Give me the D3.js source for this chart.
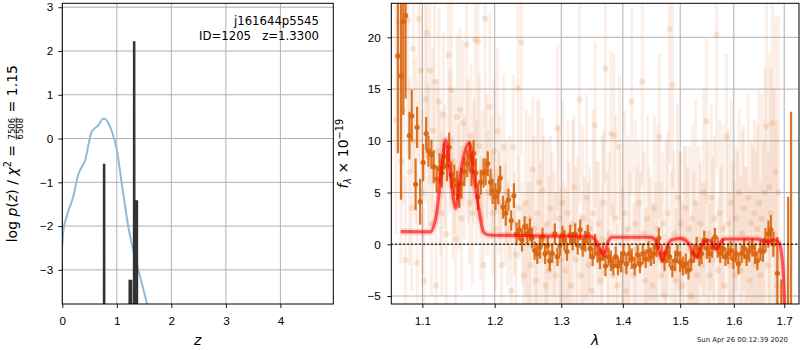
<!DOCTYPE html>
<html>
<head>
<meta charset="utf-8">
<script src="https://d3js.org/d3.v7.min.js"></script>
<style>
  body { margin: 0; background: #fff; }
  svg { font-family: 'DejaVu Sans', sans-serif; }
  .tick text { font-size: 11.7px; fill: #000; }
  .tick line { stroke: #000; stroke-width: 0.9; }
</style>
</head>
<body>
<svg width="800" height="350"></svg>
<script>
// ---- left panel: p(z) ----
var pzZ    = [0.0, 0.02, 0.08, 0.2, 0.29, 0.42, 0.54, 0.66, 0.75, 0.78, 0.84, 0.91, 1.0, 1.09, 1.21, 1.33, 1.46, 1.55, 1.62];
var pzLogP = [-2.45, -2.1, -1.78, -1.33, -0.83, -0.49, 0.16, 0.3, 0.45, 0.45, 0.36, 0.16, -0.26, -1.02, -2.01, -2.7, -3.31, -3.76, -4.1];

var fitZ    = [0.70, 0.758, 0.762, 0.772, 0.776, 1.22, 1.232, 1.265, 1.27, 1.31, 1.313, 1.323, 1.327, 1.355, 1.36, 1.373, 1.377, 1.50];
var fitLogP = [-12, -12, -0.6, -0.6, -12, -12, -3.25, -3.25, -12, -12, 2.2, 2.2, -12, -12, -1.43, -1.43, -12, -12];

var zTicks = [0, 1, 2, 3, 4];
var pTicks = [-3, -2, -1, 0, 1, 2, 3];

// ---- right panel: spectrum ----
var binWave = [1.068,1.072,1.075,1.078,1.083,1.086,1.091,1.093,1.097,1.101,
  1.105,1.108,1.112,1.115,1.119,1.123,1.126,1.129,1.133,1.136,
  1.139,1.143,1.147,1.150,1.153,1.157,1.161,1.164,1.167,1.170,
  1.173,1.176,1.180,1.184,1.187,1.190,1.194,1.197,1.201,1.205,
  1.208,1.212,1.216,1.220,1.224,1.228,1.232,1.236,1.240,1.244,
  1.248,1.252,1.255,1.259,1.263,1.267,1.271,1.275,1.279,1.282,
  1.286,1.290,1.294,1.298,1.302,1.305,1.309,1.314,1.318,1.322,
  1.326,1.330,1.334,1.338,1.342,1.346,1.350,1.354,1.358,1.362,
  1.367,1.371,1.376,1.380,1.384,1.388,1.392,1.397,1.401,1.406,
  1.411,1.415,1.420,1.425,1.429,1.434,1.439,1.444,1.448,1.453,
  1.458,1.462,1.467,1.472,1.477,1.481,1.486,1.491,1.495,1.500,
  1.505,1.510,1.515,1.520,1.525,1.530,1.535,1.539,1.544,1.549,
  1.554,1.559,1.564,1.569,1.574,1.579,1.584,1.589,1.594,1.599,
  1.604,1.609,1.615,1.620,1.625,1.630,1.636,1.641,1.646,1.652,
  1.657,1.662,1.668,1.673,1.678,1.686,1.694,1.708,1.714];
var binFlux = [18.2,16.3,21.5,22.1,10.5,12.4,5.8,11.3,4.1,7.9,
  10.7,9.0,8.7,7.5,6.3,7.3,6.9,8.5,7.6,9.4,
  6.7,6.2,5.7,4.8,5.9,7.0,7.8,8.5,7.1,8.8,
  6.9,4.6,6.0,6.9,7.0,7.8,6.0,5.1,4.6,5.1,
  6.4,3.6,3.0,4.3,2.3,4.7,1.0,1.4,0.4,1.7,
  1.0,1.4,0.6,-0.6,-0.9,-0.3,0.7,-0.9,-0.1,-1.6,
  -0.9,1.0,-1.2,-0.1,0.9,0.4,-0.7,0.9,0.3,1.0,
  -0.1,1.4,-0.3,0.3,1.0,-0.4,-1.2,0.0,-0.9,-1.4,
  -0.7,-2.1,-1.2,-1.6,-2.1,-1.2,-2.1,-1.7,-0.9,-1.9,
  -0.9,-1.4,-2.1,-1.0,-1.9,-0.9,-1.4,-0.7,-1.2,-0.9,
  -0.3,0.6,-0.9,-1.6,-0.9,-1.2,-2.3,-1.6,-0.9,-1.7,
  -2.1,-1.9,-2.5,-1.6,-0.9,-0.3,-1.2,-0.9,0.4,-0.4,
  -0.9,-0.3,0.7,-0.3,-0.9,-0.4,-1.2,-0.9,-0.6,-1.4,
  -0.9,-1.9,-0.9,-0.4,-1.2,-0.7,-0.3,-0.9,-1.6,-0.6,
  -0.7,0.4,1.0,1.4,0.0,-2.8,-8.0,-8.0,-9.0];
var binErr = [9.4,12,9,8,2.3,2.5,2.5,2.0,2.2,1.8,
  1.6,1.5,1.4,1.6,1.3,1.5,1.4,1.3,1.5,1.4,
  1.3,1.5,1.4,1.3,1.5,1.4,1.3,1.4,1.5,1.3,
  1.4,1.3,1.2,1.4,1.3,1.2,1.3,1.2,1.3,1.2,
  1.2,1.1,1.2,1.1,1.0,1.2,1.1,1.0,1.1,1.0,
  1.0,1.1,1.0,0.9,1.0,1.1,0.9,1.0,0.9,1.0,
  0.9,1.0,0.9,1.0,0.9,1.0,0.9,1.0,0.9,1.0,
  0.9,1.0,0.9,1.0,0.9,1.0,0.9,1.0,0.9,1.0,
  0.9,1.0,0.9,1.0,0.9,1.0,0.9,1.0,0.9,1.0,
  0.9,1.0,0.9,1.0,0.9,1.0,0.9,1.0,0.9,1.0,
  0.9,1.0,0.9,1.0,0.9,1.0,0.9,1.0,0.9,1.0,
  0.9,1.0,0.9,1.0,0.9,1.0,0.9,1.0,0.9,1.0,
  0.9,1.0,0.9,1.0,0.9,1.0,0.9,1.0,0.9,1.0,
  0.9,1.0,0.9,1.0,0.9,1.0,0.9,1.0,0.9,1.0,
  1.0,1.2,1.3,1.4,1.2,3.5,4.6,12.6,21.8];

var rawWave = [1.066,1.069,1.072,1.075,1.078,1.081,1.083,1.086,1.088,1.091,
  1.093,1.095,1.098,1.100,1.102,1.104,1.106,1.108,1.110,1.112,
  1.114,1.116,1.118,1.120,1.122,1.124,1.126,1.128,1.130,1.132,
  1.135,1.137,1.139,1.141,1.143,1.145,1.147,1.149,1.151,1.153,
  1.155,1.157,1.160,1.162,1.164,1.166,1.168,1.170,1.172,1.174,
  1.176,1.178,1.180,1.182,1.184,1.186,1.188,1.190,1.193,1.195,
  1.197,1.199,1.201,1.204,1.206,1.208,1.210,1.213,1.215,1.217,
  1.219,1.222,1.224,1.227,1.229,1.231,1.234,1.236,1.239,1.241,
  1.243,1.246,1.248,1.251,1.253,1.256,1.258,1.261,1.263,1.266,
  1.268,1.271,1.273,1.276,1.278,1.281,1.283,1.286,1.289,1.291,
  1.294,1.296,1.299,1.302,1.304,1.307,1.310,1.312,1.315,1.318,
  1.320,1.323,1.326,1.329,1.331,1.334,1.337,1.340,1.343,1.345,
  1.348,1.351,1.354,1.357,1.360,1.363,1.366,1.368,1.371,1.374,
  1.377,1.380,1.383,1.385,1.388,1.391,1.394,1.397,1.400,1.403,
  1.406,1.409,1.412,1.415,1.418,1.421,1.424,1.427,1.430,1.433,
  1.436,1.439,1.442,1.445,1.448,1.451,1.454,1.457,1.460,1.463,
  1.466,1.469,1.472,1.475,1.478,1.481,1.484,1.486,1.489,1.492,
  1.495,1.498,1.501,1.504,1.507,1.510,1.513,1.516,1.519,1.522,
  1.525,1.528,1.531,1.534,1.537,1.540,1.543,1.546,1.548,1.551,
  1.554,1.557,1.560,1.563,1.567,1.570,1.573,1.576,1.579,1.582,
  1.586,1.589,1.592,1.595,1.598,1.601,1.604,1.607,1.610,1.613,
  1.616,1.619,1.622,1.625,1.628,1.631,1.634,1.637,1.640,1.643,
  1.646,1.649,1.652,1.655,1.658,1.661,1.664,1.667,1.670,1.673,
  1.676,1.679,1.682,1.685,1.688];
var rawFlux = [12.0,21.5,8.0,13.0,-1.5,21.7,7.0,3.5,18.9,10.0,
  -1.8,21.8,16.8,5.0,-3.5,14.0,20.4,8.5,16.8,2.0,
  11.0,15.7,-4.0,9.0,13.8,6.0,3.0,12.5,7.5,1.0,
  18.3,10.0,14.9,4.5,8.0,0.5,12.3,5.5,13.0,2.5,
  11.7,6.5,19.3,9.0,4.0,10.5,3.0,8.0,19.8,6.0,
  19.6,9.5,2.5,7.0,-2.0,21.8,8.5,5.0,13.3,6.5,
  3.0,9.0,1.5,10.9,4.0,6.5,-2.0,9.4,3.0,5.0,
  1.0,4.5,-4.5,9.4,2.0,-1.0,15.1,3.5,19.5,1.0,
  -3.0,4.0,0.0,2.5,-2.0,7.2,1.5,-3.5,3.0,6.0,
  -1.0,5.2,0.5,-4.0,2.0,-2.5,3.5,-1.0,1.0,-3.0,
  11.2,2.5,-1.5,4.0,0.0,-2.5,3.0,1.0,-4.0,2.0,
  5.5,-1.5,0.5,14.0,-3.0,2.5,-0.5,4.5,-2.0,1.5,
  -4.5,3.0,11.5,-1.0,2.0,-3.5,0.5,4.0,17.0,-2.0,
  1.0,10.7,-3.0,10.5,2.5,-4.0,9.4,0.0,-2.5,3.0,
  -4.5,1.5,-1.0,13.8,-3.0,2.0,-0.5,4.0,-2.0,15.7,
  1.0,-3.5,2.5,-1.5,0.5,-4.0,3.5,-1.0,1.5,10.4,
  -3.0,2.0,-5.0,0.0,3.0,20.8,-2.0,15.4,1.0,-3.5,
  4.5,-1.0,2.0,-4.0,0.5,3.5,-2.5,1.5,-5.0,2.5,
  -1.0,4.0,-3.0,0.5,2.0,-2.0,5.0,-1.0,11.9,1.0,
  -3.0,4.5,-1.5,2.5,20.3,-2.5,3.0,-0.5,1.5,-4.0,
  10.4,2.0,-2.0,4.0,0.0,-3.0,2.5,-1.0,5.0,-2.5,
  1.0,3.5,-1.5,0.5,4.5,-3.5,2.0,-0.5,3.0,-2.0,
  1.5,4.0,-3.0,2.5,0.0,5.0,11.4,-2.0,5.5,3.0,
  11.7,1.0,7.0,-4.0,5.0];
var rawErr = [11,12,10,9,8,13,9,8,12,8,
  9,14,11,8,7,10,12,7,11,7,
  8,10,8,7,9,7,8,8,6,7,
  11,7,10,6,7,7,8,6,8,7,
  8,6,12,7,6,7,7,6,12,6,
  11,7,6,6,7,13,6,6,9,6,
  6,7,6,8,5,6,6,7,5,5,
  5,6,6,7,5,5,10,5,11,5,
  7,9,6,10,8,7,9,6,11,8,
  9,7,10,6,8,9,7,10,6,8,
  8,9,7,10,6,8,9,7,6,10,
  7,9,8,10,6,9,7,10,8,6,
  7,10,8,9,6,8,10,7,11,9,
  8,8,7,8,10,6,7,9,8,10,
  6,9,8,9,7,10,8,6,9,10,
  8,7,10,9,6,8,9,7,10,8,
  9,7,6,10,8,13,9,10,8,7,
  9,10,7,8,9,6,10,8,7,9,
  8,10,7,9,6,8,10,7,8,9,
  7,9,10,8,13,7,9,8,10,6,
  8,9,7,10,8,9,7,10,8,9,
  10,8,9,7,10,9,8,10,9,11,
  10,11,9,12,10,12,12,11,13,14,
  13,14,15,16,17];

var modelWave = [1.0716, 1.1103, 1.119, 1.126, 1.131, 1.138, 1.145, 1.1517, 1.164, 1.171, 1.1768, 1.1838, 1.1906,
  1.347, 1.356, 1.369, 1.375, 1.382, 1.4485, 1.458, 1.4677, 1.476, 1.484, 1.5, 1.515, 1.5293, 1.543, 1.5546,
  1.566, 1.5785, 1.585, 1.6458, 1.6662, 1.68, 1.69, 1.699, 1.70, 1.703];
var modelFlux = [1.22, 1.2, 3.0, 7.5, 10.1, 6.5, 3.5, 6.9, 9.8, 6.2, 3.6, 1.2, 0.9,
  0.74, 0.3, -1.13, 0.2, 0.68, 0.68, 0.2, -1.52, -0.4, 0.42, 0.58, 0.1, -1.26, 0.25, 0.35,
  -0.49, 0.42, 0.51, 0.51, 0.25, 0.42, 0.1, -3.45, -4.9, -8];

var waveTicks = [1.1, 1.2, 1.3, 1.4, 1.5, 1.6, 1.7];
var fluxTicks = [-5, 0, 5, 10, 15, 20];

var orange = '#d9650f';

var svg = d3.select('svg');

// ===== left panel =====
var L = {x0: 62.3, x1: 333.3, y0: 3.3, y1: 304};
var zx = d3.scaleLinear().domain([0, 4.97]).range([L.x0, L.x1]);
var py = d3.scaleLinear().domain([-3.78, 3.09]).range([L.y1, L.y0]);

svg.append('clipPath').attr('id', 'clipL').append('rect')
  .attr('x', L.x0).attr('y', L.y0).attr('width', L.x1 - L.x0).attr('height', L.y1 - L.y0);

var gl = svg.append('g');
gl.selectAll('.vg').data(zTicks).enter().append('line')
  .attr('x1', d => zx(d)).attr('x2', d => zx(d)).attr('y1', L.y0).attr('y2', L.y1)
  .attr('stroke', '#b0b0b0').attr('stroke-width', 1);
gl.selectAll('.hg').data(pTicks).enter().append('line')
  .attr('x1', L.x0).attr('x2', L.x1).attr('y1', d => py(d)).attr('y2', d => py(d))
  .attr('stroke', '#b0b0b0').attr('stroke-width', 1);

var cl = gl.append('g').attr('clip-path', 'url(#clipL)');
cl.append('path')
  .attr('d', d3.line().x(d => zx(d[0])).y(d => py(d[1])).curve(d3.curveMonotoneX)(d3.zip(pzZ, pzLogP)))
  .attr('fill', 'none').attr('stroke', '#8fbbd9').attr('stroke-width', 2);
cl.append('path')
  .attr('d', d3.line().x(d => zx(d[0])).y(d => py(d[1]))(d3.zip(fitZ, fitLogP)))
  .attr('fill', 'none').attr('stroke', '#333').attr('stroke-width', 2);

gl.append('g').attr('transform', 'translate(0,' + L.y1 + ')')
  .call(d3.axisBottom(zx).tickValues(zTicks).tickFormat(d3.format('d')).tickSize(4).tickPadding(8.6))
  .call(g => g.select('.domain').remove());
gl.append('g').attr('transform', 'translate(' + L.x0 + ',0)')
  .call(d3.axisLeft(py).tickValues(pTicks).tickFormat(d3.format('d')).tickSize(4).tickPadding(5))
  .call(g => g.select('.domain').remove());
gl.append('rect').attr('x', L.x0).attr('y', L.y0).attr('width', L.x1 - L.x0).attr('height', L.y1 - L.y0)
  .attr('fill', 'none').attr('stroke', '#000').attr('stroke-width', 1);

gl.append('text').attr('x', 319).attr('y', 25).attr('text-anchor', 'end').attr('font-size', 11.7)
  .text('j161644p5545');
gl.append('text').attr('x', 319).attr('y', 40).attr('text-anchor', 'end').attr('font-size', 11.7)
  .text('ID=1205\u00a0\u00a0\u00a0z=1.3300');

gl.append('text').attr('x', zx.range().reduce((a, b) => a + b) / 2).attr('y', 345)
  .attr('text-anchor', 'middle').attr('font-size', 14).attr('font-style', 'italic').text('z');

// y label with fraction
var yl = gl.append('g');
var t1 = yl.append('text').attr('font-size', 14);
t1.append('tspan').text('log\u00a0');
t1.append('tspan').attr('font-style', 'italic').text('p');
t1.append('tspan').text('(');
t1.append('tspan').attr('font-style', 'italic').text('z');
t1.append('tspan').text(')\u00a0/\u00a0');
t1.append('tspan').attr('font-style', 'italic').text('χ');
t1.append('tspan').attr('font-size', 9.8).attr('dy', -5.5).text('2');
t1.append('tspan').attr('dy', 5.5).text('\u00a0=\u00a0');
var w1 = t1.node().getComputedTextLength();
var num = yl.append('text').attr('font-size', 8.5).attr('y', -2).attr('text-anchor', 'middle').text('7506');
var fw = num.node().getComputedTextLength() + 2;
num.attr('x', w1 + fw / 2);
yl.append('text').attr('font-size', 8.5).attr('x', w1 + fw / 2).attr('y', 6).attr('text-anchor', 'middle').text('6508');
yl.append('line').attr('x1', w1 + 0.5).attr('x2', w1 + fw - 0.5).attr('y1', -0.5).attr('y2', -0.5)
  .attr('stroke', '#000').attr('stroke-width', 0.7);
var t2 = yl.append('text').attr('font-size', 14).attr('x', w1 + fw).text('\u00a0=\u00a01.15');
var total = w1 + fw + t2.node().getComputedTextLength();
yl.attr('transform', 'translate(16.7,' + ((L.y0 + L.y1) / 2) + ') rotate(-90) translate(' + (-total / 2) + ',0)');

// ===== right panel =====
var R = {x0: 391.3, x1: 799, y0: 3.3, y1: 304};
var wx = d3.scaleLog().domain([1.0596, 1.7305]).range([R.x0, R.x1]);
var fy = d3.scaleLinear().domain([-5.77, 23.29]).range([R.y1, R.y0]);

svg.append('clipPath').attr('id', 'clipR').append('rect')
  .attr('x', R.x0).attr('y', R.y0).attr('width', R.x1 - R.x0).attr('height', R.y1 - R.y0);

var gr = svg.append('g');
gr.selectAll('.vg').data(waveTicks).enter().append('line')
  .attr('x1', d => wx(d)).attr('x2', d => wx(d)).attr('y1', R.y0).attr('y2', R.y1)
  .attr('stroke', '#b0b0b0').attr('stroke-width', 1);
gr.selectAll('.hg').data(fluxTicks).enter().append('line')
  .attr('x1', R.x0).attr('x2', R.x1).attr('y1', d => fy(d)).attr('y2', d => fy(d))
  .attr('stroke', '#b0b0b0').attr('stroke-width', 1);

var cr = gr.append('g').attr('clip-path', 'url(#clipR)');

var raw = d3.range(rawWave.length).map(i => ({w: rawWave[i], f: rawFlux[i], e: rawErr[i]}));
cr.append('g').selectAll('line').data(raw).enter().append('line')
  .attr('x1', d => wx(d.w)).attr('x2', d => wx(d.w))
  .attr('y1', d => fy(d.f - d.e)).attr('y2', d => fy(d.f + d.e))
  .attr('stroke', orange).attr('stroke-opacity', 0.1).attr('stroke-width', 3);
cr.append('g').selectAll('circle').data(raw).enter().append('circle')
  .attr('cx', d => wx(d.w)).attr('cy', d => fy(d.f)).attr('r', 3.1)
  .attr('fill', orange).attr('fill-opacity', 0.15);

var bins = d3.range(binWave.length).map(i => ({w: binWave[i], f: binFlux[i], e: binErr[i]}));
cr.append('g').selectAll('line').data(bins).enter().append('line')
  .attr('x1', d => wx(d.w)).attr('x2', d => wx(d.w))
  .attr('y1', d => fy(d.f - d.e)).attr('y2', d => fy(d.f + d.e))
  .attr('stroke', orange).attr('stroke-opacity', 0.9).attr('stroke-width', 2.2);
cr.append('g').selectAll('circle').data(bins).enter().append('circle')
  .attr('cx', d => wx(d.w)).attr('cy', d => fy(d.f)).attr('r', 2.6)
  .attr('fill', orange).attr('fill-opacity', 0.95);

var model = d3.zip(modelWave, modelFlux);
var mline = d3.line().x(d => wx(d[0])).y(d => fy(d[1])).curve(d3.curveMonotoneX);
cr.append('path').attr('d', mline(model)).attr('fill', 'none')
  .attr('stroke', 'red').attr('stroke-opacity', 0.12).attr('stroke-width', 7);
cr.append('path').attr('d', mline(model)).attr('fill', 'none')
  .attr('stroke', 'red').attr('stroke-opacity', 0.62).attr('stroke-width', 3.2);

cr.append('line').attr('x1', R.x0).attr('x2', R.x1).attr('y1', fy(0)).attr('y2', fy(0))
  .attr('stroke', '#000').attr('stroke-width', 1.5).attr('stroke-dasharray', '1.5,2.5');

gr.append('g').attr('transform', 'translate(0,' + R.y1 + ')')
  .call(d3.axisBottom(wx).tickValues(waveTicks).tickFormat(d3.format('.1f')).tickSize(4).tickPadding(8.6))
  .call(g => g.select('.domain').remove());
gr.append('g').attr('transform', 'translate(' + R.x0 + ',0)')
  .call(d3.axisLeft(fy).tickValues(fluxTicks).tickFormat(d3.format('d')).tickSize(4).tickPadding(6.5))
  .call(g => g.select('.domain').remove());
gr.append('rect').attr('x', R.x0).attr('y', R.y0).attr('width', R.x1 - R.x0).attr('height', R.y1 - R.y0)
  .attr('fill', 'none').attr('stroke', '#000').attr('stroke-width', 1);

gr.append('text').attr('x', (R.x0 + R.x1) / 2).attr('y', 345)
  .attr('text-anchor', 'middle').attr('font-size', 14).attr('font-style', 'italic').text('λ');

var ry = gr.append('text').attr('font-size', 14).attr('text-anchor', 'middle')
  .attr('transform', 'translate(348,' + ((R.y0 + R.y1) / 2) + ') rotate(-90)');
ry.append('tspan').attr('font-style', 'italic').text('f');
ry.append('tspan').attr('font-style', 'italic').attr('font-size', 9.8).attr('dy', 3).text('λ');
ry.append('tspan').attr('dy', -3).text('\u00a0×\u00a010');
ry.append('tspan').attr('font-size', 9.8).attr('dy', -5.5).text('−19');

svg.append('text').attr('x', 788).attr('y', 342).attr('text-anchor', 'end')
  .attr('font-size', 6.9).attr('fill', '#222').text('Sun Apr 26 00:12:39 2020');
</script>
</body>
</html>
